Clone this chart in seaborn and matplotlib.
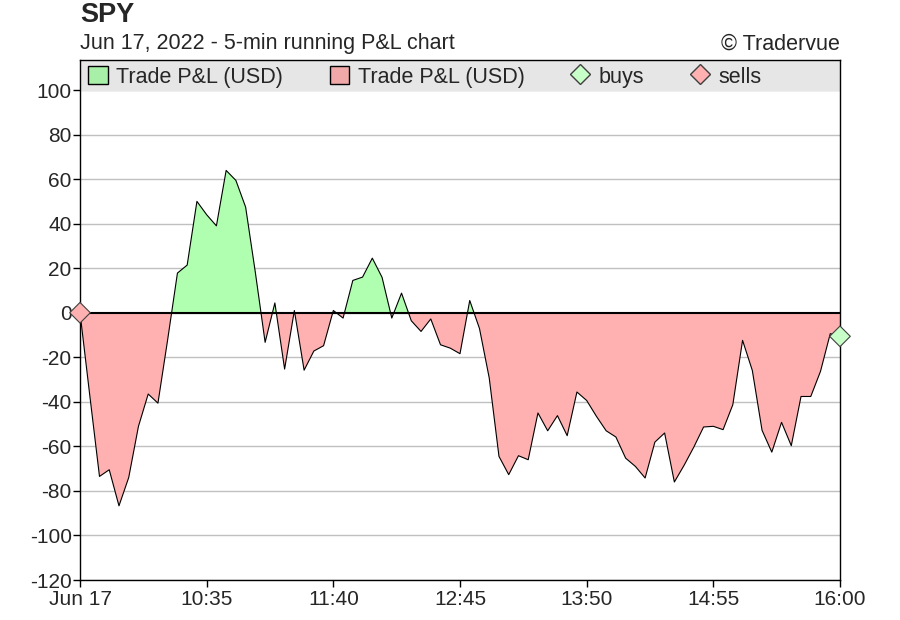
import pandas as pd
import seaborn as sns
import matplotlib.pyplot as plt
from matplotlib.patches import Patch
from matplotlib.lines import Line2D

# running P&L, one value every 5 minutes from 9:30 to 16:00
pnl = [0, -37, -73.5, -70.5, -86.7, -74, -51, -36.5, -40.6, -12, 17.8, 21.4, 50, 44, 39,
       63.9, 59.4, 47.4, 18, -13.3, 4.4, -25.3, 1, -25.8, -17.2, -14.8, 1, -2.4, 14.5,
       16, 24.5, 15.9, -2.4, 8.8, -3.6, -8.4, -2.8, -14.4, -15.9, -18.4, 5.5, -7.1,
       -29.3, -64.5, -72.7, -64.2, -66, -45, -53, -46.2, -55.2, -35.6, -39.4, -46.5,
       -53, -55.8, -65.3, -69, -74.2, -58.1, -54, -76, -68.5, -60.3, -51.3, -51, -52.5,
       -41.3, -12.4, -25.9, -52.8, -62.6, -49.2, -59.7, -37.6, -37.6, -26.3, -9.4, -10.6]
times = pd.date_range("2022-06-17 09:30", periods=len(pnl), freq="5min")
df = pd.DataFrame({"time": times, "pnl": pnl})

trades = pd.DataFrame({
    "time": pd.to_datetime(["2022-06-17 09:30", "2022-06-17 16:00"]),
    "pnl": [0, -10.6],
    "side": ["sells", "buys"],
})

tick_times = pd.date_range("2022-06-17 09:30", "2022-06-17 16:00", freq="65min")
tick_labels = ["Jun 17", "10:35", "11:40", "12:45", "13:50", "14:55", "16:00"]
y_ticks = list(range(-120, 101, 20))

green_fill = "#b0ffb0"
red_fill = "#ffb0b0"

sns.set_style("white")
plt.rcParams["font.family"] = ["Liberation Sans", "DejaVu Sans"]
plt.rcParams["axes.unicode_minus"] = False

fig = plt.figure(figsize=(9, 6.2), dpi=100)
ax = fig.add_axes([80 / 900, 40 / 620, 760 / 900, 520 / 620])

top = 100 + 30 / (490 / 220)
ax.set_ylim(-120, top)
ax.set_xlim(times[0], times[-1])

for y in y_ticks:
    ax.axhline(y, color="#c0c0c0", lw=1, zorder=0)
ax.axhspan(100, top, color="#e6e6e6", zorder=0)

ax.fill_between(df["time"], df["pnl"], 0, where=df["pnl"] >= 0, interpolate=True,
                color=green_fill, lw=0, zorder=1)
ax.fill_between(df["time"], df["pnl"], 0, where=df["pnl"] <= 0, interpolate=True,
                color=red_fill, lw=0, zorder=1)
sns.lineplot(data=df, x="time", y="pnl", color="black", lw=0.8, ax=ax, zorder=3)
ax.axhline(0, color="black", lw=1.5, zorder=2)

sns.scatterplot(data=trades, x="time", y="pnl", hue="side",
                palette={"sells": "#ffb0b0", "buys": "#c8ffc8"}, marker="D", s=110,
                edgecolor="#404040", linewidth=0.8, ax=ax, zorder=4, clip_on=False,
                legend=False)

ax.set_yticks(y_ticks)
ax.set_xticks(tick_times)
ax.set_xticklabels(tick_labels)
ax.tick_params(axis="both", direction="out", length=5, width=1, color="black",
               labelsize=15, bottom=True, left=True)
ax.tick_params(axis="y", pad=1)
ax.tick_params(axis="x", pad=2)
ax.set_xlabel("")
ax.set_ylabel("")
for s in ax.spines.values():
    s.set_color("black")
    s.set_linewidth(1)

handles = [
    Patch(facecolor="#a8f0a8", edgecolor="black", label="Trade P&L (USD)"),
    Patch(facecolor="#f0a8a8", edgecolor="black", label="Trade P&L (USD)"),
    Line2D([], [], marker="D", ls="", markersize=10, markerfacecolor="#c8ffc8",
           markeredgecolor="#404040", label="buys"),
    Line2D([], [], marker="D", ls="", markersize=10, markerfacecolor="#ffb0b0",
           markeredgecolor="#404040", label="sells"),
]
ax.legend(handles=handles, ncol=4, loc="center left",
          bbox_to_anchor=(2 / 760, 503 / 520),
          frameon=False, fontsize=15.5, handlelength=0.9, handleheight=0.9,
          handletextpad=0.4, columnspacing=2.15, borderaxespad=0.3, borderpad=0)

fig.text(80 / 900, 1 - 15 / 620, "SPY", fontsize=19.5, fontweight="bold", va="center")
fig.text(80 / 900, 1 - 44 / 620, "Jun 17, 2022 - 5-min running P&L chart", fontsize=15.5,
         va="center")
fig.text(840 / 900, 1 - 44 / 620, "© Tradervue", fontsize=15.5, va="center", ha="right")

fig.savefig("out.png", dpi=100)
